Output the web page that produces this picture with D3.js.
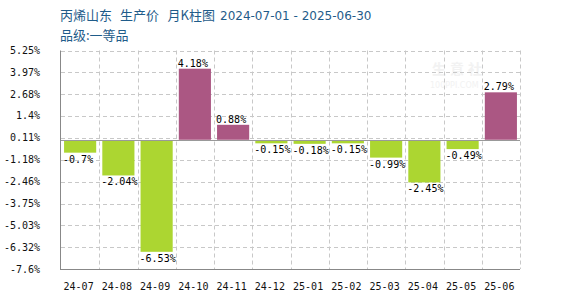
<!DOCTYPE html>
<html><head><meta charset="utf-8">
<script src="https://cdn.jsdelivr.net/npm/d3@7"></script>
<style>body{margin:0;background:#fff}svg{display:block}</style>
</head><body>
<svg id="c" width="570" height="300"></svg>
<script>
const categories = ["24-07","24-08","24-09","24-10","24-11","24-12","25-01","25-02","25-03","25-04","25-05","25-06"];
const values = [-0.7,-2.04,-6.53,4.18,0.88,-0.15,-0.18,-0.15,-0.99,-2.45,-0.49,2.79];
const tickValues = [5.25,3.97,2.68,1.4,0.11,-1.18,-2.46,-3.75,-5.03,-6.32,-7.6];
const tickLabels = ["5.25%","3.97%","2.68%","1.4%","0.11%","-1.18%","-2.46%","-3.75%","-5.03%","-6.32%","-7.6%"];
const titleParts = ["丙烯山东", "生产价", "月K柱图"];
const titleDate = "2024-07-01 - 2025-06-30";
const subtitle = "品级:一等品";

const svg = d3.select("#c");
const L = 61, R = 520, T = 50.5, B = 269;
const x = d3.scaleBand().domain(categories).range([L, R]).paddingInner(0.16).paddingOuter(0.08);
const xb = d3.scaleBand().domain(categories).range([L, R]);
const y = d3.scaleLinear().domain([-7.6, 5.25]).range([B, T]);
const mono = "'DejaVu Sans Mono', monospace";

// title
const titleX = [60, 120, 167.5];
const t = svg.append("text").attr("y", 19.5).attr("fill", "#1f5c8a");
titleParts.forEach((p, i) => t.append("tspan").attr("x", titleX[i]).attr("font-family", "'Noto Sans CJK SC'").attr("font-size", 13).text(p));
t.append("tspan").attr("x", 220).attr("font-family", "'DejaVu Sans'").attr("font-size", 12).text(titleDate);
svg.append("text").attr("x", 60).attr("y", 39.5).attr("fill", "#1f5c8a")
  .attr("font-family", "'Noto Sans CJK SC'").attr("font-size", 13).text(subtitle);

// watermark
svg.append("text").attr("x", 432).attr("y", 74).attr("fill", "#f2f2f2").attr("font-family","'Noto Sans CJK SC'")
  .attr("font-size", 14).attr("font-weight","bold").attr("letter-spacing", 4).text("生意社");
svg.append("text").attr("x", 430).attr("y", 88).attr("fill", "#f2f2f2").attr("font-family","'DejaVu Sans'")
  .attr("font-size", 8).text("100PPI.COM");

// grid horizontal
const grid = svg.append("g").attr("stroke", "#c8c8c8").attr("stroke-dasharray", "4,3");
grid.selectAll("line.h").data(tickValues).join("line")
  .attr("x1", L).attr("x2", R).attr("y1", d => Math.round(y(d)) + 0.5).attr("y2", d => Math.round(y(d)) + 0.5);
// grid vertical at band boundaries
grid.selectAll("line.v").data(categories).join("line")
  .attr("x1", d => Math.round(xb(d) + xb.bandwidth()) + 0.5).attr("x2", d => Math.round(xb(d) + xb.bandwidth()) + 0.5)
  .attr("y1", T).attr("y2", B);

// bars
svg.append("g").selectAll("rect").data(values).join("rect")
  .attr("x", (d, i) => x(categories[i]))
  .attr("width", x.bandwidth())
  .attr("y", d => d >= 0 ? y(d) : y(0) + 1)
  .attr("height", d => Math.abs(y(d) - y(0)))
  .attr("fill", d => d >= 0 ? "#ab5783" : "#acd631");

// zero line
svg.append("line").attr("x1", L).attr("x2", R).attr("y1", Math.round(y(0)) + 0.5).attr("y2", Math.round(y(0)) + 0.5)
  .attr("stroke", "#999");

// axes lines
svg.append("line").attr("x1", 60.5).attr("x2", 60.5).attr("y1", T).attr("y2", B + 0.5).attr("stroke", "#888");
svg.append("line").attr("x1", 60).attr("x2", R).attr("y1", B + 0.5).attr("y2", B + 0.5).attr("stroke", "#888");

// y tick labels
svg.append("g").selectAll("text").data(tickValues).join("text")
  .attr("x", 40).attr("y", d => y(d) + 3.5).attr("text-anchor", "end")
  .attr("font-family", mono).attr("font-size", 10).attr("fill", "#111")
  .text((d, i) => tickLabels[i]);

// x labels
svg.append("g").selectAll("text").data(categories).join("text")
  .attr("x", d => xb(d) + xb.bandwidth() / 2 - 1.5).attr("y", 290).attr("text-anchor", "middle")
  .attr("font-family", mono).attr("font-size", 10).attr("fill", "#111").text(d => d);

// value labels
svg.append("g").selectAll("text").data(values).join("text")
  .attr("x", (d, i) => x(categories[i]) - 1)
  .attr("y", d => d >= 0 ? y(d) - 2 : y(d) + 11)
  .attr("font-family", mono).attr("font-size", 10).attr("fill", "#000")
  .text(d => d + "%");
</script>
</body></html>
